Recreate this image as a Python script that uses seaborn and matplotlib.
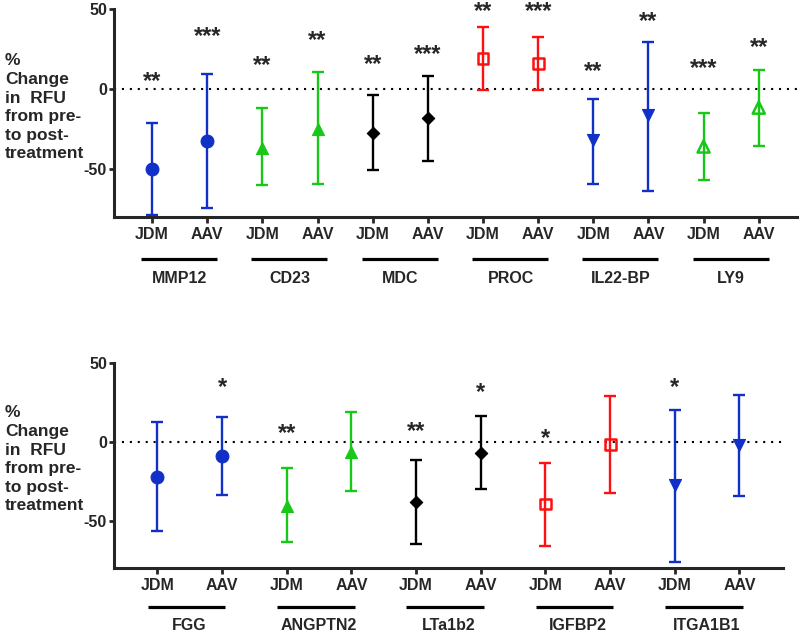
import numpy as np
import pandas as pd
import matplotlib
matplotlib.use("Agg")
import matplotlib.pyplot as plt
import seaborn as sns

# ----------------------------------------
# values (% change in RFU)
# ----------------------------------------
groups = ["JDM", "AAV"]

top_genes = ["MMP12", "CD23", "MDC", "PROC", "IL22-BP", "LY9"]
top_mean = [-49.8, -32.5, -37.1, -25.2, -27.3, -18.3, 19.2, 16.0, -31.9, -16.3, -36.0, -11.7]
top_upper = [-21.0, 9.2, -12.1, 10.6, -3.8, 7.9, 38.9, 32.5, -6.0, 29.6, -14.8, 11.9]
top_lower = [-78.8, -74.6, -60.2, -59.2, -50.8, -45.0, -0.4, -0.4, -59.6, -63.5, -56.9, -35.6]
top_stars = ["**", "***", "**", "**", "**", "***", "**", "***", "**", "**", "***", "**"]
top_star_y = [7.7, 35.8, 17.5, 33.3, 18.0, 24.4, 51.0, 51.0, 14.0, 45.2, 15.4, 28.5]

bot_genes = ["FGG", "ANGPTN2", "LTa1b2", "IGFBP2", "ITGA1B1"]
bot_mean = [-22.2, -9.0, -40.7, -6.3, -38.2, -6.9, -39.4, -1.7, -27.4, -2.1]
bot_upper = [12.5, 15.8, -16.4, 19.2, -11.6, 16.3, -13.3, 29.1, 20.4, 30.0]
bot_lower = [-56.5, -33.7, -63.3, -31.0, -64.7, -29.9, -66.2, -32.7, -76.3, -34.4]
bot_stars = ["", "*", "**", "", "**", "*", "*", "", "*", ""]
bot_star_y = [np.nan, 37.6, 8.5, np.nan, 9.5, 34.2, 4.9, np.nan, 37.6, np.nan]

# ----------------------------------------
# styling per protein
# ----------------------------------------
BLUE, GREEN, RED, BLACK = "#1030C8", "#18C818", "#FF1010", "#000000"
style = {
    "MMP12": (BLUE, "o", True),
    "CD23": (GREEN, "^", True),
    "MDC": (BLACK, "D", True),
    "PROC": (RED, "s", False),
    "IL22-BP": (BLUE, "v", True),
    "LY9": (GREEN, "^", False),
    "FGG": (BLUE, "o", True),
    "ANGPTN2": (GREEN, "^", True),
    "LTa1b2": (BLACK, "D", True),
    "IGFBP2": (RED, "s", False),
    "ITGA1B1": (BLUE, "v", True),
}
marker_size = {"o": 85, "^": 75, "v": 75, "D": 40, "s": 62}

sns.set_style("ticks")
plt.rcParams["font.family"] = ["Liberation Sans", "DejaVu Sans"]
plt.rcParams["axes.unicode_minus"] = False

ylabel = "%\nChange\nin  RFU\nfrom pre-\nto post-\ntreatment"


def draw_panel(ax, genes, mean, upper, lower, stars, star_y, xpad, line_ext, line_y, text_y, lab_xy):
    df = pd.DataFrame({
        "gene": np.repeat(genes, 2),
        "group": groups * len(genes),
        "mean": mean,
        "upper": upper,
        "lower": lower,
    })
    df["pos"] = np.arange(len(df))

    ax.axhline(0, color="k", lw=1.5, ls=(0, (1, 2.8)), zorder=1)

    # error bars
    for _, r in df.iterrows():
        c = style[r["gene"]][0]
        ax.errorbar(r["pos"], r["mean"],
                    yerr=[[r["mean"] - r["lower"]], [r["upper"] - r["mean"]]],
                    fmt="none", ecolor=c, elinewidth=1.7, capsize=4.6, capthick=1.7, zorder=2)

    # markers
    for gene, sub in df.groupby("gene", sort=False):
        c, m, filled = style[gene]
        sns.scatterplot(data=sub, x="pos", y="mean", ax=ax, marker=m, s=marker_size[m],
                        color=c, edgecolor=c, facecolor=c if filled else "none",
                        linewidth=0.8 if filled else 1.8, zorder=3, legend=False)

    # significance stars
    for p, s, y in zip(df["pos"], stars, star_y):
        if s:
            ax.annotate(s, xy=(p, y), xytext=(0, -3.3), textcoords="offset points",
                        ha="center", va="center", fontsize=17, fontweight="bold",
                        annotation_clip=False)

    n = len(df)
    ax.set_xlim(-xpad, n - 1 + xpad)
    ax.set_ylim(-80, 50)
    ax.set_yticks([-50, 0, 50])
    ax.set_xticks(df["pos"])
    ax.set_xticklabels(df["group"], fontweight="bold", fontsize=11.5)
    for t in ax.get_yticklabels():
        t.set_fontweight("bold")
        t.set_fontsize(11.5)
    ax.tick_params(axis="y", width=2, length=3.5, pad=1.5)
    ax.tick_params(axis="x", width=2, length=4.5, pad=3)
    sns.despine(ax=ax)
    for sp in ["left", "bottom"]:
        ax.spines[sp].set_linewidth(2.2)
    ax.set_xlabel("")
    ax.set_ylabel(ylabel, rotation=0, ha="left", va="top", fontsize=12.5,
                  fontweight="bold", linespacing=1.3)
    ax.yaxis.set_label_coords(*lab_xy)

    # protein brackets under the group labels
    trans = ax.get_xaxis_transform()
    for i, gene in enumerate(genes):
        ax.plot([2 * i + line_ext[0], 2 * i + line_ext[1]], [line_y, line_y],
                color="k", lw=2.3, transform=trans, clip_on=False, solid_capstyle="butt")
        ax.text(2 * i + 0.5, text_y, gene, transform=trans, ha="center", va="center",
                fontsize=11.5, fontweight="bold")


fig = plt.figure(figsize=(8, 6.38), dpi=100)
ax1 = fig.add_axes([0.1425, 0.660, 0.8535, 0.326])
ax2 = fig.add_axes([0.1425, 0.110, 0.8359, 0.3203])

draw_panel(ax1, top_genes, top_mean, top_upper, top_lower, top_stars, top_star_y,
           0.69, (-0.2, 1.18), -0.202, -0.298, (-0.160, 0.786))
draw_panel(ax2, bot_genes, bot_mean, bot_upper, bot_lower, bot_stars, bot_star_y,
           0.67, (-0.15, 1.05), -0.191, -0.280, (-0.163, 0.795))

fig.savefig("out.png", dpi=100)
